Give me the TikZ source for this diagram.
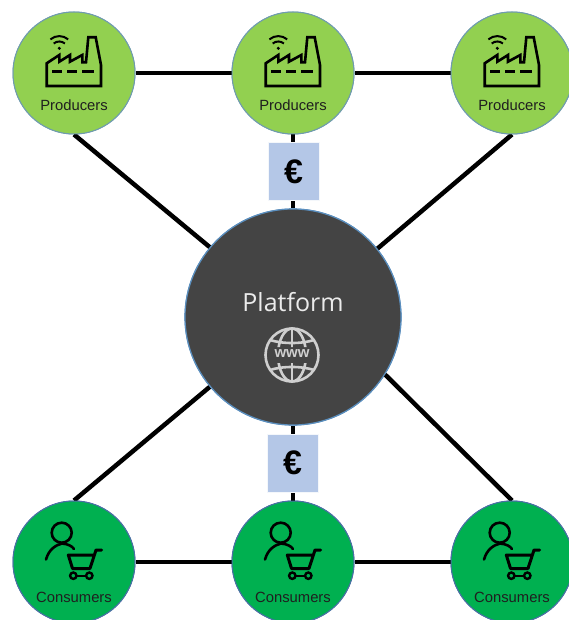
\documentclass[tikz,border=0pt]{standalone}
\usepackage{fontspec}
\setmainfont{Liberation Sans}
\newfontfamily\platfont{Open Sans}
\definecolor{prodgreen}{HTML}{92D050}
\definecolor{consgreen}{HTML}{00B050}
\definecolor{boxblue}{HTML}{B4C7E7}
\definecolor{hubgray}{HTML}{444444}
\definecolor{hubrim}{HTML}{5B8FBF}
\definecolor{globegray}{HTML}{CFCFCF}
\definecolor{prodrim}{HTML}{6F9BB0}
\definecolor{consrim}{HTML}{4A6FA5}
\tikzset{
  x=1pt,y=-1pt,
  link/.style={line width=4.5pt,black},
  rim/.style={draw=#1,line width=1pt,circle,minimum size=122pt,inner sep=0pt},
  producer/.style={rim=prodrim,fill=prodgreen},
  consumer/.style={rim=consrim,fill=consgreen},
  hub/.style={draw=hubrim,line width=1.2pt,fill=hubgray,circle,minimum size=216pt,inner sep=0pt},
  eurobox/.style={fill=boxblue,draw=white!85!boxblue,line width=.8pt,minimum width=51pt,minimum height=58pt,inner sep=0pt,font=\fontsize{34}{34}\selectfont\bfseries},
  caption/.style={inner sep=0pt,font=\fontsize{14.8}{15}\selectfont,text=black!88},
  icon/.style={line width=2.6pt,black,line join=miter,line cap=butt},
  globe/.style={line width=2.6pt,globegray}
}
\newcommand{\factoryicon}[2]{%
  \begin{scope}[shift={(#1,#2)}]
    \draw[icon] (-27.3,13) -- (-27.3,-9.7) -- (-14.7,-18) -- (-14.7,-11.3) -- (-4,-18) -- (-4,-11.3) -- (8.3,-18) -- (8.3,-10.7) -- (12,-10.7) -- (14.3,-35.7) -- (21.7,-35.7) -- (27,-8) -- (27,13) -- cycle;
    \draw[icon,line width=3pt] (-22,-1.3) -- (-12,-1.3) (-7,-1.3) -- (3,-1.3) (8,-1.3) -- (20,-1.3);
    \fill (-14.7,-24.7) circle (1.7pt);
    \draw[line width=2pt] (-20.3,-29.5) .. controls (-17,-32.2) and (-12.4,-32.2) .. (-9.1,-29.5);
    \draw[line width=2pt] (-23.6,-33.6) .. controls (-18.5,-38) and (-10.9,-38) .. (-5.8,-33.6);
  \end{scope}}
\newcommand{\shopicon}[2]{%
  \begin{scope}[shift={(#1,#2)}]
    \draw[icon] (-12.3,-29.3) circle (10pt);
    \draw[icon,line cap=round] (-28,-2.5) .. controls (-25,-13) and (-18,-17) .. (-12,-18.5) .. controls (-6,-18) and (-2,-16) .. (0,-13);
    \draw[icon,line width=3pt,line join=round,line cap=round] (27.7,-12) -- (22,-12) -- (16,6.5) -- (-1.5,6.5) -- (-5.7,-7) -- (19.5,-7);
    \draw[line width=2.4pt] (-0.7,13.7) circle (3.2pt) (15.3,13.7) circle (3.2pt);
    \draw[line width=2.4pt] (2.5,13.7) -- (12.1,13.7);
  \end{scope}}
\begin{document}
\begin{tikzpicture}
\useasboundingbox (0,0) rectangle (568,620);
\fill[white] (0,0) rectangle (568,620);
\node[hub] (plat) at (293,317) {};
\node[producer] (p1) at (74,73) {};
\node[producer] (p2) at (293,73) {};
\node[producer] (p3) at (512,73) {};
\node[consumer] (c1) at (74,562) {};
\node[consumer] (c2) at (293,562) {};
\node[consumer] (c3) at (512,562) {};
\draw[link] (p1) -- (p2);
\draw[link] (p2) -- (p3);
\draw[link] (c1) -- (c2);
\draw[link] (c2) -- (c3);
\draw[link] (p1.south) -- (plat.140);
\draw[link] (p3.south) -- (plat.39);
\draw[link] (c1.north) -- (plat.220);
\draw[link] (c3.north) -- (plat.-32);
\draw[link] (p2) -- (plat);
\draw[link] (c2) -- (plat);
\node[eurobox] (e1) at (293.5,171.5) {\raisebox{-1pt}{€}};
\node[eurobox] (e2) at (292.5,463) {\raisebox{-1.5pt}{€}};
\node[hub] at (plat) {};
\foreach \n/\x in {p1/74,p2/293,p3/512}{\node[producer] at (\n) {};\factoryicon{\x}{73}
  \node[caption,anchor=base] at (\x,111) {Producers};}
\foreach \n/\x in {c1/74,c2/293,c3/512}{\node[consumer] at (\n) {};\shopicon{\x}{562}
  \node[caption,anchor=base] at (\x,602) {Consumers};}
\node[inner sep=0pt,anchor=base,text=white!92!black,font=\platfont\fontsize{25}{25}\selectfont] (ptext) at (293,311) {Platform};
\begin{scope}[shift={(292,355)}]
  \draw[globe] (0,0) circle (26.5pt);
  \begin{scope}
    \clip (-30,-30) rectangle (30,-8) (-30,8) rectangle (30,30);
    \draw[globe] (0,0) ellipse (14pt and 26.5pt);
    \draw[globe] (0,-26.5) -- (0,26.5);
    \draw[globe] (-22,-15) .. controls (-10,-11) and (10,-11) .. (22,-15);
    \draw[globe] (-22,15) .. controls (-10,11) and (10,11) .. (22,15);
  \end{scope}
  \node[inner sep=0pt,text=globegray,font=\fontsize{15}{15}\selectfont\bfseries] (www) at (0,-1) {www};
\end{scope}
\end{tikzpicture}
\end{document}
